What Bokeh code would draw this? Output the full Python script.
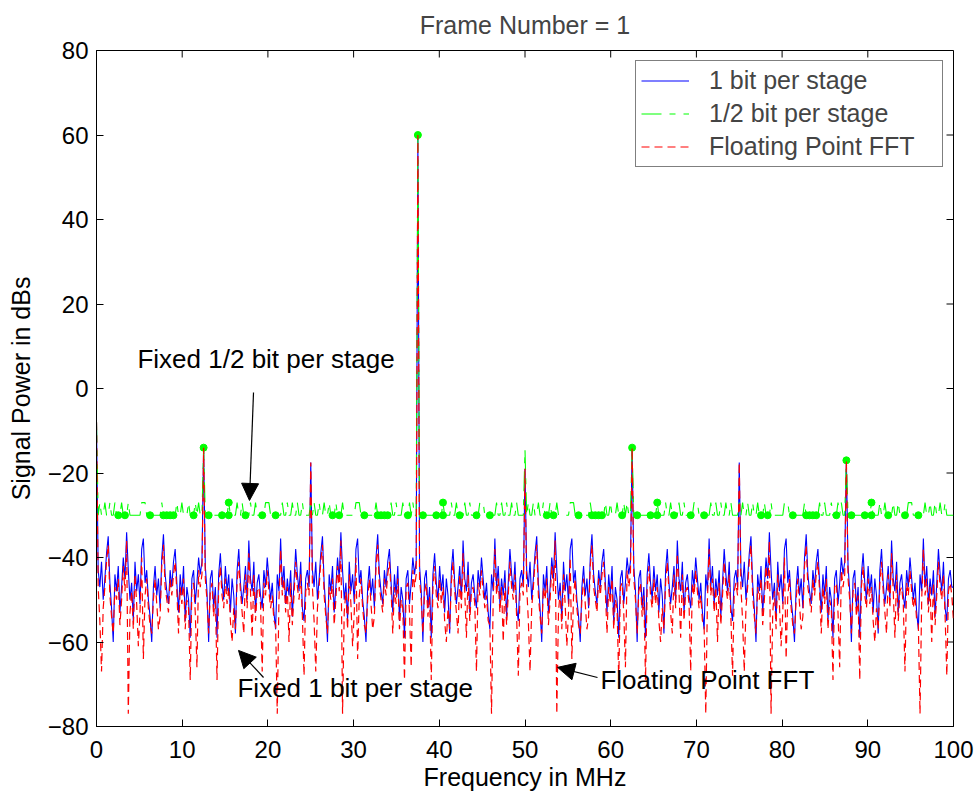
import numpy as np
from bokeh.plotting import figure
from bokeh.models import Range1d, Label, Arrow, NormalHead, Legend, LegendItem, FixedTicker
from bokeh.embed import file_html
from bokeh.resources import INLINE

# ---------------- data ----------------
x_ticks = [0, 10, 20, 30, 40, 50, 60, 70, 80, 90, 100]
y_ticks = [-80, -60, -40, -20, 0, 20, 40, 60, 80]

# 1 bit per stage (blue), one list per 25 MHz block (128 bins each)
blue_0_25 = [-8, -43, -47, -41, -50, -45, -39, -35, -46, -52, -60, -44, -48, -42, -53, -47,
             -40, -45, -34, -43, -50, -46, -55, -41, -48, -44, -51, -38, -35.5, -46, -43, -50,
             -54, -60, -47, -42, -49, -45, -52, -40, -34.5, -44, -48, -51, -43, -47, -41, -38,
             -46, -53, -44, -49, -42, -55, -47, -50, -59, -45, -43, -51, -46, -40, -44, -41,
             -14, -42, -48, -60, -45, -43, -52, -47, -59, -44, -39, -46, -50, -42, -48, -44,
             -53, -45, -49, -58, -43, -38, -46, -51, -47, -42, -50, -36, -45, -48, -41, -53,
             -46, -44, -49, -52, -43, -47, -40, -45, -50, -46, -53, -57, -44, -48, -35.5, -47,
             -42, -51, -45, -49, -43, -54, -46, -38, -44, -48, -41, -52, -55, -45, -43, -47]
blue_25_50 = [-17.5, -43, -47, -41, -50, -45, -39, -35, -46, -52, -60, -44, -48, -42, -53, -47,
              -40, -45, -34, -43, -50, -46, -55, -41, -48, -44, -51, -38, -35.5, -46, -43, -50,
              -54, -60, -47, -42, -49, -45, -52, -40, -34.5, -44, -48, -51, -43, -47, -41, -38,
              -46, -53, -44, -49, -42, -55, -47, -50, -59, -45, -43, -51, -46, -40, -44, -41,
              60, -42, -48, -60, -45, -43, -52, -47, -59, -44, -39, -46, -50, -42, -48, -44,
              -53, -45, -49, -58, -43, -38, -46, -51, -47, -42, -50, -36, -45, -48, -41, -53,
              -46, -44, -49, -52, -43, -47, -40, -45, -50, -46, -53, -57, -44, -48, -35.5, -47,
              -42, -51, -45, -49, -43, -54, -46, -38, -44, -48, -41, -52, -55, -45, -43, -47]
blue_50_75 = [-19, -43, -47, -41, -50, -45, -39, -35, -46, -52, -60, -44, -48, -42, -53, -47,
              -40, -45, -34, -43, -50, -46, -55, -41, -48, -44, -51, -38, -35.5, -46, -43, -50,
              -54, -60, -47, -42, -49, -45, -52, -40, -34.5, -44, -48, -51, -43, -47, -41, -38,
              -46, -53, -44, -49, -42, -55, -47, -50, -59, -45, -43, -51, -46, -40, -44, -41,
              -14, -42, -48, -60, -45, -43, -52, -47, -59, -44, -39, -46, -50, -42, -48, -44,
              -53, -45, -49, -58, -43, -38, -46, -51, -47, -42, -50, -36, -45, -48, -41, -53,
              -46, -44, -49, -52, -43, -47, -40, -45, -50, -46, -53, -57, -44, -48, -35.5, -47,
              -42, -51, -45, -49, -43, -54, -46, -38, -44, -48, -41, -52, -55, -45, -43, -47]
blue_75_100 = [-17.5, -43, -47, -41, -50, -45, -39, -35, -46, -52, -60, -44, -48, -42, -53, -47,
               -40, -45, -34, -43, -50, -46, -55, -41, -48, -44, -51, -38, -35.5, -46, -43, -50,
               -54, -60, -47, -42, -49, -45, -52, -40, -34.5, -44, -48, -51, -43, -47, -41, -38,
               -46, -53, -44, -49, -42, -55, -47, -50, -59, -45, -43, -51, -46, -40, -44, -41,
               -17, -42, -48, -60, -45, -43, -52, -47, -59, -44, -39, -46, -50, -42, -48, -44,
               -53, -45, -49, -58, -43, -38, -46, -51, -47, -42, -50, -36, -45, -48, -41, -53,
               -46, -44, -49, -52, -43, -47, -40, -45, -50, -46, -53, -57, -44, -48, -35.5, -47,
               -42, -51, -45, -49, -43, -54, -46, -38, -44, -48, -41, -52, -55, -45, -43, -47, -47]

# Floating point FFT (red)
red_0_25 = [-8, -47, -55, -67, -52, -47, -41, -37, -49, -54, -58, -47, -50, -45, -56, -50,
            -42, -48, -36, -77, -53, -48, -57, -44, -51, -61, -53, -40, -64, -49, -45, -52,
            -56, -58, -50, -45, -51, -57, -54, -42, -37, -47, -50, -53, -45, -49, -44, -41,
            -48, -58, -47, -51, -45, -57, -50, -52, -69, -47, -46, -53, -66, -43, -47, -44,
            -14, -45, -50, -58, -48, -46, -54, -49, -69, -47, -42, -49, -52, -45, -51, -47,
            -55, -60, -52, -57, -46, -41, -48, -53, -58, -44, -52, -39, -48, -59, -44, -55,
            -48, -47, -51, -67, -46, -49, -43, -48, -52, -49, -55, -56, -77, -50, -38, -49,
            -45, -53, -47, -60, -46, -56, -49, -41, -47, -50, -44, -54, -68, -48, -46, -49]
red_25_50 = [-17.5, -47, -55, -67, -52, -47, -41, -37, -49, -54, -58, -47, -50, -45, -56, -50,
             -42, -48, -36, -77, -53, -48, -57, -44, -51, -61, -53, -40, -64, -49, -45, -52,
             -56, -58, -50, -45, -51, -57, -54, -42, -37, -47, -50, -53, -45, -49, -44, -41,
             -48, -58, -47, -51, -45, -57, -50, -52, -69, -47, -46, -53, -66, -43, -47, -44,
             60, -45, -50, -58, -48, -46, -54, -49, -69, -47, -42, -49, -52, -45, -51, -47,
             -55, -60, -52, -57, -46, -41, -48, -53, -58, -44, -52, -39, -48, -59, -44, -55,
             -48, -47, -51, -67, -46, -49, -43, -48, -52, -49, -55, -56, -77, -50, -38, -49,
             -45, -53, -47, -60, -46, -56, -49, -41, -47, -50, -44, -54, -68, -48, -46, -49]
red_50_75 = [-19, -47, -55, -67, -52, -47, -41, -37, -49, -54, -58, -47, -50, -45, -56, -50,
             -42, -48, -36, -77, -53, -48, -57, -44, -51, -61, -53, -40, -64, -49, -45, -52,
             -56, -58, -50, -45, -51, -57, -54, -42, -37, -47, -50, -53, -45, -49, -44, -41,
             -48, -58, -47, -51, -45, -57, -50, -52, -69, -47, -46, -53, -66, -43, -47, -44,
             -14, -45, -50, -58, -48, -46, -54, -49, -69, -47, -42, -49, -52, -45, -51, -47,
             -55, -60, -52, -57, -46, -41, -48, -53, -58, -44, -52, -39, -48, -59, -44, -55,
             -48, -47, -51, -67, -46, -49, -43, -48, -52, -49, -55, -56, -77, -50, -38, -49,
             -45, -53, -47, -60, -46, -56, -49, -41, -47, -50, -44, -54, -68, -48, -46, -49]
red_75_100 = [-17.5, -47, -55, -67, -52, -47, -41, -37, -49, -54, -58, -47, -50, -45, -56, -50,
              -42, -48, -36, -77, -53, -48, -57, -44, -51, -61, -53, -40, -64, -49, -45, -52,
              -56, -58, -50, -45, -51, -57, -54, -42, -37, -47, -50, -53, -45, -49, -44, -41,
              -48, -58, -47, -51, -45, -57, -50, -52, -69, -47, -46, -53, -66, -43, -47, -44,
              -17, -45, -50, -58, -48, -46, -54, -49, -69, -47, -42, -49, -52, -45, -51, -47,
              -55, -60, -52, -57, -46, -41, -48, -53, -58, -44, -52, -39, -48, -59, -44, -55,
              -48, -47, -51, -67, -46, -49, -43, -48, -52, -49, -55, -56, -77, -50, -38, -49,
              -45, -53, -47, -60, -46, -56, -49, -41, -47, -50, -44, -54, -68, -48, -46, -49, -55]

# 1/2 bit per stage (green)
green_0_25 = [-8, -30, -27, -30, -30, -27, -30, -30, -27, -30, -30, -27, -30, -30, -30, -27,
              -30, -30, -30, -27, -30, -30, -30, -30, -30, -30, -30, -27, -27, -27, -30, -30,
              -30, -30, -30, -30, -30, -30, -30, -27, -30, -30, -30, -30, -30, -30, -30, -30,
              -27, -30, -30, -27, -30, -30, -30, -27, -30, -30, -30, -27, -30, -27, -30, -30,
              -14, -30, -30, -30, -30, -30, -30, -30, -30, -30, -30, -30, -30, -30, -30, -27,
              -30, -30, -30, -30, -27, -30, -30, -27, -30, -30, -30, -30, -27, -30, -30, -27,
              -30, -30, -30, -30, -30, -27, -27, -27, -30, -30, -30, -30, -30, -30, -30, -27,
              -30, -30, -27, -30, -30, -27, -30, -30, -27, -30, -30, -27, -30, -30, -30, -30]
green_25_50 = [-27, -30, -27, -30, -30, -27, -30, -30, -27, -30, -30, -27, -30, -30, -30, -27,
               -30, -30, -30, -27, -30, -30, -30, -30, -30, -30, -30, -27, -27, -27, -30, -30,
               -30, -30, -30, -30, -30, -30, -30, -27, -30, -30, -30, -30, -30, -30, -30, -30,
               -27, -30, -30, -27, -30, -30, -30, -27, -30, -30, -30, -27, -30, -27, -30, -30,
               60, -30, -30, -30, -30, -30, -30, -30, -30, -30, -30, -30, -30, -30, -30, -27,
               -30, -30, -30, -30, -27, -30, -30, -27, -30, -30, -30, -30, -27, -30, -30, -27,
               -30, -30, -30, -30, -30, -27, -27, -27, -30, -30, -30, -30, -30, -30, -30, -27,
               -30, -30, -27, -30, -30, -27, -30, -30, -27, -30, -30, -27, -30, -30, -30, -30]
green_50_75 = [-14.5, -30, -27, -30, -30, -27, -30, -30, -27, -30, -30, -27, -30, -30, -30, -27,
               -30, -30, -30, -27, -30, -30, -30, -30, -30, -30, -30, -27, -27, -27, -30, -30,
               -30, -30, -30, -30, -30, -30, -30, -27, -30, -30, -30, -30, -30, -30, -30, -30,
               -27, -30, -30, -27, -30, -30, -30, -27, -30, -30, -30, -27, -30, -27, -30, -30,
               -14, -30, -30, -30, -30, -30, -30, -30, -30, -30, -30, -30, -30, -30, -30, -27,
               -30, -30, -30, -30, -27, -30, -30, -27, -30, -30, -30, -30, -27, -30, -30, -27,
               -30, -30, -30, -30, -30, -27, -27, -27, -30, -30, -30, -30, -30, -30, -30, -27,
               -30, -30, -27, -30, -30, -27, -30, -30, -27, -30, -30, -27, -30, -30, -30, -30]
green_75_100 = [-27, -30, -27, -30, -30, -27, -30, -30, -27, -30, -30, -27, -30, -30, -30, -27,
                -30, -30, -30, -27, -30, -30, -30, -30, -30, -30, -30, -27, -27, -27, -30, -30,
                -30, -30, -30, -30, -30, -30, -30, -27, -30, -30, -30, -30, -30, -30, -30, -30,
                -27, -30, -30, -27, -30, -30, -30, -27, -30, -30, -30, -27, -30, -27, -30, -30,
                -17, -30, -30, -30, -30, -30, -30, -30, -30, -30, -30, -30, -30, -30, -30, -27,
                -30, -30, -30, -30, -27, -30, -30, -27, -30, -30, -30, -30, -27, -30, -30, -27,
                -30, -30, -30, -30, -30, -27, -27, -27, -30, -30, -30, -30, -30, -30, -30, -27,
                -30, -30, -27, -30, -30, -27, -30, -30, -27, -30, -30, -27, -30, -30, -30, -30, -30]

# dots on the 1/2 bit curve
dot_f = [2.54, 3.32, 6.25, 7.81, 8.2, 8.59, 8.98, 11.33, 12.5, 13.09, 14.65, 15.43, 15.43, 17.38, 19.34, 20.9,
         27.54, 28.32, 31.25, 32.81, 33.2, 33.59, 33.98, 36.33, 37.5, 38.09, 39.65, 40.43, 40.43, 42.38, 44.34, 45.9,
         52.54, 53.32, 56.25, 57.81, 58.2, 58.59, 58.98, 61.33, 62.5, 63.09, 64.65, 65.43, 65.43, 67.38, 69.34, 70.9,
         77.54, 78.32, 81.25, 82.81, 83.2, 83.59, 83.98, 86.33, 87.5, 88.09, 89.65, 90.43, 90.43, 92.38, 94.34, 95.9]
dot_db = [-30, -30, -30, -30, -30, -30, -30, -30, -14, -30, -30, -27, -30, -30, -30, -30,
          -30, -30, -30, -30, -30, -30, -30, -30, 60, -30, -30, -27, -30, -30, -30, -30,
          -30, -30, -30, -30, -30, -30, -30, -30, -14, -30, -30, -27, -30, -30, -30, -30,
          -30, -30, -30, -30, -30, -30, -30, -30, -17, -30, -30, -27, -30, -30, -30, -30]

blue = blue_0_25 + blue_25_50 + blue_50_75 + blue_75_100
green = green_0_25 + green_25_50 + green_50_75 + green_75_100
red = red_0_25 + red_25_50 + red_50_75 + red_75_100
freq = list(np.linspace(0, 100, len(blue)))

FONT = "Liberation Sans"

p = figure(width=980, height=796, output_backend="svg", toolbar_location=None,
           x_range=Range1d(0, 100), y_range=Range1d(-80, 80),
           min_border_left=96, min_border_right=27, min_border_top=50, min_border_bottom=70,
           background_fill_color="white", border_fill_color="white")
p.title.text = "Frame Number = 1"
p.title.align = "center"
p.title.vertical_align = "top"
p.title.text_font = FONT
p.title.text_font_size = "25px"
p.title.text_font_style = "normal"
p.title.standoff = 20

p.grid.visible = False
p.outline_line_color = "black"
p.outline_line_width = 1

for ax, ticks in ((p.xaxis[0], x_ticks), (p.yaxis[0], y_ticks)):
    ax.ticker = FixedTicker(ticks=ticks)
    ax.major_tick_in = 7
    ax.major_tick_out = 0
    ax.minor_tick_in = 0
    ax.minor_tick_out = 0
    ax.axis_line_color = "black"
    ax.major_tick_line_color = "black"
    ax.major_label_text_font = FONT
    ax.major_label_text_font_size = "24px"
    ax.major_label_text_color = "black"
    ax.axis_label_text_font = FONT
    ax.axis_label_text_font_size = "25px"
    ax.axis_label_text_font_style = "normal"
    ax.axis_label_text_color = "black"

p.xaxis.axis_label = "Frequency in MHz"
p.yaxis.axis_label = "Signal Power in dBs"
p.xaxis.major_label_standoff = 14
p.xaxis.axis_label_standoff = 2
p.yaxis.major_label_standoff = 8
p.yaxis.axis_label_standoff = 10

# inward ticks on the right and top edges of the box
p.ray(x=[100] * len(y_ticks), y=y_ticks, length=7, length_units="screen", angle=np.pi,
      line_color="black", line_width=1)
p.ray(x=x_ticks, y=[80] * len(x_ticks), length=7, length_units="screen", angle=-np.pi / 2,
      line_color="black", line_width=1)

r_blue = p.line(freq, blue, line_color="blue", line_width=1.1)
r_green = p.line(freq, green, line_color="lime", line_width=1.1, line_dash="20 8 6 8")
p.scatter(dot_f, dot_db, size=7, color="lime")
r_red = p.line(freq, red, line_color="red", line_width=1.2, line_dash="8 5")

legend = Legend(items=[LegendItem(label="1 bit per stage", renderers=[r_blue]),
                       LegendItem(label="1/2 bit per stage", renderers=[r_green]),
                       LegendItem(label="Floating Point FFT", renderers=[r_red])],
                location=(539, 559), label_text_font=FONT, label_text_font_size="25px",
                glyph_width=48, glyph_height=27, label_height=27, spacing=4, padding=5,
                label_standoff=20, label_width=228,
                border_line_color="black", border_line_width=1, background_fill_alpha=1)
p.add_layout(legend)

texts = [(4.78, 7.1, "Fixed 1/2 bit per stage"),
         (16.45, -71.0, "Fixed 1 bit per stage"),
         (58.8, -68.9, "Floating Point FFT")]
for tx, ty, tt in texts:
    p.add_layout(Label(x=tx, y=ty, text=tt, text_font=FONT, text_font_size="26px",
                       text_baseline="middle", text_align="left", text_color="black"))

arrows = [(18.32, -0.95, 17.85, -26.5), (19.49, -68.4, 16.57, -62.0), (58.46, -68.4, 53.8, -66.0)]
for xs, ys, xe, ye in arrows:
    p.add_layout(Arrow(end=NormalHead(size=17, fill_color="black", line_color="black"),
                       x_start=xs, y_start=ys, x_end=xe, y_end=ye, line_color="black", line_width=1.2))

open("out.html", "w").write(file_html(p, INLINE))
